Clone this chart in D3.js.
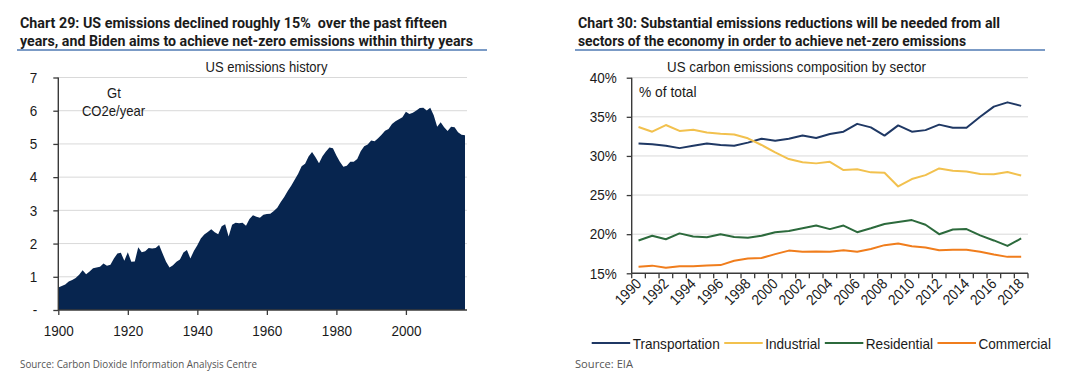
<!DOCTYPE html>
<html><head><meta charset="utf-8">
<script src="https://cdn.jsdelivr.net/npm/d3@7/dist/d3.min.js"></script>
<style>
html,body{margin:0;padding:0;background:#fff;}
svg{display:block;}
text{font-family:"Liberation Sans",Arial,sans-serif;fill:#1a1a1a;}
</style></head>
<body>
<svg id="c" width="1080" height="384"></svg>
<script>
// ---------- DATA ----------
const histYears = d3.range(1900, 2018);
const histValues = [
 0.68,0.72,0.77,0.86,0.90,0.96,1.06,1.20,1.08,1.16,
 1.26,1.28,1.30,1.40,1.33,1.36,1.55,1.70,1.72,1.48,
 1.74,1.45,1.46,1.89,1.74,1.77,1.87,1.85,1.87,1.96,
 1.70,1.45,1.28,1.35,1.45,1.52,1.73,1.81,1.55,1.78,
 1.95,2.15,2.27,2.35,2.43,2.34,2.28,2.52,2.58,2.21,
 2.57,2.63,2.61,2.63,2.54,2.74,2.85,2.81,2.78,2.87,
 2.89,2.90,2.98,3.08,3.25,3.40,3.58,3.74,3.92,4.10,
 4.33,4.40,4.62,4.76,4.60,4.42,4.63,4.77,4.89,4.87,
 4.65,4.46,4.31,4.34,4.46,4.46,4.55,4.78,4.93,4.98,
 5.10,5.08,5.17,5.28,5.40,5.45,5.60,5.68,5.74,5.80,
 5.97,5.90,5.94,6.01,6.08,6.09,6.01,6.09,5.86,5.52,
 5.65,5.50,5.39,5.52,5.50,5.35,5.28,5.26
];
const histYTicks = [0,1,2,3,4,5,6,7];
const histXTicks = [1900,1920,1940,1960,1980,2000];

const sectorYears = d3.range(1990, 2019);
const transportation = [31.6,31.5,31.3,31.0,31.3,31.6,31.4,31.3,31.7,32.2,31.95,32.2,32.6,32.3,32.8,33.1,34.1,33.65,32.6,33.9,33.1,33.3,34.0,33.6,33.6,35.0,36.3,36.85,36.4];
const industrial     = [33.7,33.1,33.95,33.2,33.35,33.0,32.85,32.75,32.25,31.4,30.45,29.6,29.2,29.05,29.25,28.2,28.3,27.9,27.85,26.1,27.05,27.55,28.4,28.1,28.0,27.7,27.65,27.95,27.5];
const residential    = [19.2,19.8,19.35,20.1,19.7,19.6,20.0,19.65,19.55,19.8,20.25,20.4,20.75,21.1,20.65,21.1,20.25,20.75,21.3,21.55,21.8,21.2,20.0,20.6,20.65,19.85,19.2,18.5,19.45];
const commercial     = [15.85,15.98,15.7,15.9,15.9,16.0,16.05,16.6,16.9,16.95,17.45,17.9,17.75,17.8,17.75,17.95,17.75,18.1,18.6,18.8,18.45,18.3,17.95,18.0,18.0,17.75,17.4,17.1,17.1];
const sectorNames = ["Transportation","Industrial","Residential","Commercial"];
const sectorColors = ["#1f3864","#f2c14e","#2c6a3c","#f07d1c"];
const sectorYTicks = [15,20,25,30,35,40];

const titleLeft = ["Chart 29: US emissions declined roughly 15%  over the past fifteen",
                   "years, and Biden aims to achieve net-zero emissions within thirty years"];
const titleRight = ["Chart 30: Substantial emissions reductions will be needed from all",
                    "sectors of the economy in order to achieve net-zero emissions"];

// ---------- HELPERS ----------
const svg = d3.select("#c");
function squeeze(sel, f){
  sel.each(function(){
    const w = this.getComputedTextLength();
    if (w>0){ this.setAttribute("textLength", w*f); this.setAttribute("lengthAdjust","spacingAndGlyphs"); }
  });
}
function fitText(sel, w){ sel.attr("textLength", w).attr("lengthAdjust","spacingAndGlyphs"); }
const GRID = "#d9d9d9", AXIS = "#3a3a3a";

// ---------- TITLES ----------
function title(lines, x, widths, lx0, lx1){
  lines.forEach((t,i)=>{
    svg.append("text").attr("x",x).attr("y",28+i*18)
      .style("font-family","Roboto, 'Open Sans', sans-serif").style("font-weight","700")
      .style("font-size","15.5px").style("fill","#1b1b1b").style("white-space","pre")
      .text(t).call(fitText, widths[i]);
  });
  svg.append("line").attr("x1",lx0).attr("x2",lx1).attr("y1",50).attr("y2",50)
    .attr("stroke","#4f7ab3").attr("stroke-width",1.4);
}
title(titleLeft, 20, [427,453], 17, 487);
title(titleRight, 578, [422,388], 575, 1045);

// ---------- LEFT CHART ----------
const xL = d3.scaleLinear().domain([1900,2017]).range([58.3,465]);
const yL = d3.scaleLinear().domain([0,7]).range([310,77.5]);
const gL = svg.append("g");
gL.selectAll("line.grid").data(histYTicks.filter(d=>d>0)).join("line")
  .attr("x1",58.3).attr("x2",467).attr("y1",d=>yL(d)).attr("y2",d=>yL(d))
  .attr("stroke",GRID).attr("stroke-width",1);

const histData = histYears.map((y,i)=>({year:y, v:histValues[i]}));
gL.append("path").datum(histData)
  .attr("d", d3.area().x(d=>xL(d.year)).y0(yL(0)).y1(d=>yL(d.v)))
  .attr("fill","#07254f");

const axL = gL.append("g").attr("transform","translate(58.3,0)")
  .call(d3.axisLeft(yL).tickValues(histYTicks).tickSize(5).tickPadding(16).tickSizeOuter(0)
        .tickFormat(d=>d===0?"-":d));
const axB = gL.append("g").attr("transform","translate(0,310)")
  .call(d3.axisBottom(xL).tickValues(histXTicks).tickSize(5).tickPadding(10).tickSizeOuter(0)
        .tickFormat(d3.format("d")));
[axL,axB].forEach(a=>{
  a.select(".domain").remove();
  a.selectAll(".tick line").attr("stroke",AXIS).attr("stroke-width",1.3);
  a.selectAll("text").style("font-size","15px").style("fill","#1a1a1a").style("font-family","'Liberation Sans',Arial,sans-serif");
});
gL.append("line").attr("x1",58.3).attr("x2",58.3).attr("y1",77.5).attr("y2",310).attr("stroke",AXIS).attr("stroke-width",1.4);
gL.append("line").attr("x1",58.3).attr("x2",467).attr("y1",310).attr("y2",310).attr("stroke",AXIS).attr("stroke-width",1.4);

gL.append("text").attr("x",266.5).attr("y",71.5).attr("text-anchor","middle").style("font-size","14.5px").text("US emissions history");
gL.append("text").attr("x",114).attr("y",97.5).attr("text-anchor","middle").style("font-size","14.5px").text("Gt");
gL.append("text").attr("x",113.5).attr("y",115.5).attr("text-anchor","middle").style("font-size","14.5px").text("CO2e/year");

// ---------- RIGHT CHART ----------
const xR = d3.scaleBand().domain(sectorYears).range([631.7,1028]);
const yR = d3.scaleLinear().domain([15,40]).range([273.3,77.7]);
const gR = svg.append("g");
gR.selectAll("line.grid").data(sectorYTicks.filter(d=>d>15)).join("line")
  .attr("x1",631.7).attr("x2",1028).attr("y1",d=>yR(d)).attr("y2",d=>yR(d))
  .attr("stroke",GRID).attr("stroke-width",1);

const seriesList = [transportation, industrial, residential, commercial];
const bw = xR.bandwidth();
const line = d3.line().x((d,i)=>xR(sectorYears[i])+bw/2).y(d=>yR(d));
seriesList.forEach((s,k)=>{
  gR.append("path").datum(s).attr("d",line).attr("fill","none")
    .attr("stroke",sectorColors[k]).attr("stroke-width",2).attr("stroke-linejoin","round");
});

const axRL = gR.append("g").attr("transform","translate(631.7,0)")
  .call(d3.axisLeft(yR).tickValues(sectorYTicks).tickSize(5).tickPadding(10).tickSizeOuter(0)
        .tickFormat(d=>d+"%"));
axRL.select(".domain").remove();
axRL.selectAll(".tick line").attr("stroke",AXIS).attr("stroke-width",1.3);
axRL.selectAll("text").style("font-size","15px").style("fill","#1a1a1a").style("font-family","'Liberation Sans',Arial,sans-serif");

gR.append("line").attr("x1",631.7).attr("x2",631.7).attr("y1",77.7).attr("y2",273.3).attr("stroke",AXIS).attr("stroke-width",1.4);
gR.append("line").attr("x1",631.7).attr("x2",1028).attr("y1",273.3).attr("y2",273.3).attr("stroke",AXIS).attr("stroke-width",1.4);
// category boundary ticks
const bounds = sectorYears.map(y=>xR(y)).concat([xR(sectorYears[sectorYears.length-1])+xR.step()]);
gR.selectAll("line.bt").data(bounds).join("line")
  .attr("x1",d=>d).attr("x2",d=>d).attr("y1",273.3).attr("y2",278.3)
  .attr("stroke",AXIS).attr("stroke-width",1.3);
const xLabels = gR.selectAll("text.xl").data(sectorYears.filter(y=>y%2===0)).join("text")
  .attr("class","xl")
  .attr("transform",d=>`translate(${xR(d)+bw/2},281) rotate(-45)`)
  .attr("text-anchor","end").attr("dy","0.35em").style("font-size","15px").text(d=>d);

const subR = gR.append("text").attr("x",796.5).attr("y",71.5).attr("text-anchor","middle").style("font-size","14.5px").text("US carbon emissions composition by sector");
const pctR = gR.append("text").attr("x",639).attr("y",97).style("font-size","15px").text("% of total");

// legend
const lg = svg.append("g");
let cx = 591.7;
sectorNames.forEach((n,k)=>{
  lg.append("line").attr("x1",cx).attr("x2",cx+38.5).attr("y1",343).attr("y2",343)
    .attr("stroke",sectorColors[k]).attr("stroke-width",2);
  const t = lg.append("text").attr("x",cx+41).attr("y",348.5).style("font-size","15px").text(n);
  const w = t.node().getComputedTextLength()*0.905;
  fitText(t, w);
  cx = cx + 41 + w + 4.5;
});

// sources
svg.append("text").attr("x",20).attr("y",367.5)
  .style("font-family","'Open Sans',sans-serif").style("font-size","10.5px").style("fill","#555")
  .text("Source: Carbon Dioxide Information Analysis Centre").call(fitText,237);
svg.append("text").attr("x",575).attr("y",367.5)
  .style("font-family","'Open Sans',sans-serif").style("font-size","10.5px").style("fill","#555")
  .text("Source: EIA").call(fitText,58);

// squeeze axis & subtitle labels slightly to mimic the narrower reference glyphs
squeeze(svg.selectAll(".tick text"), 0.9);
squeeze(xLabels, 0.9);
squeeze(gL.selectAll(":scope > text"), 0.9);
squeeze(subR, 0.92);
squeeze(pctR, 0.92);
</script>
</body></html>
